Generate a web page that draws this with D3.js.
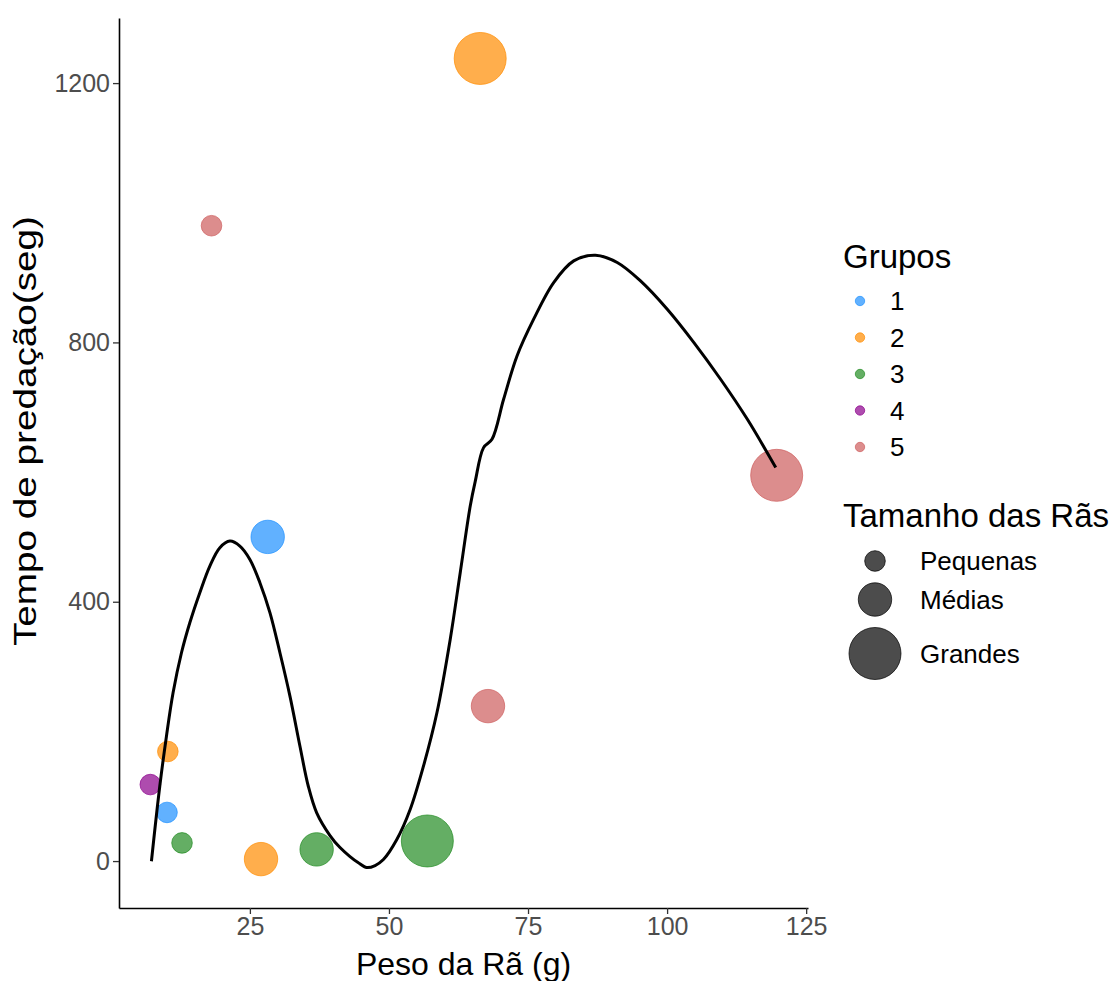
<!DOCTYPE html>
<html><head><meta charset="utf-8">
<script src="https://cdn.jsdelivr.net/npm/d3@7"></script>
<style>
body{margin:0;background:#fff}
text{font-family:"Liberation Sans",Arial,sans-serif}
</style>
</head><body>
<svg id="chart" width="1117" height="981"></svg>
<script>
// ---- data ----
const groups = ["1", "2", "3", "4", "5"];
const groupColors = ["#1E90FF", "#FF8C00", "#228B22", "#8B008B", "#CD5C5C"];
const sizeLabels = ["Pequenas", "Médias", "Grandes"];
const sizeRadii = [10.3, 16.7, 26];

const pesos  = [66.4, 18.1, 28.2, 119.7, 67.8, 10.25, 7.1, 10.1, 12.8, 27.0, 37.0, 56.9];
const tempos = [1238, 980, 500, 595, 239, 169, 118, 75, 28, 3, 18, 31];
const grupoPts = ["2", "5", "1", "5", "5", "2", "4", "1", "3", "2", "3", "3"];
const tamanhoPts = ["Grandes", "Pequenas", "Médias", "Grandes", "Médias", "Pequenas", "Pequenas", "Pequenas", "Pequenas", "Médias", "Médias", "Grandes"];

const curvaX = [7.30, 8.80, 10.00, 11.19, 12.70, 14.20, 16.00, 17.80, 19.60, 21.40, 23.20, 25.00, 26.80, 28.60, 30.40, 32.20, 34.00, 35.50, 37.01, 39.40, 41.20, 43.00, 44.44, 46.01, 47.51, 49.00, 51.41, 53.81, 56.20, 58.62, 61.01, 62.81, 64.61, 65.51, 67.01, 68.52, 70.61, 73.02, 76.01, 79.61, 83.21, 87.12, 91.03, 95.22, 100.03, 104.82, 109.62, 114.43, 119.53];
const curvaY = [-0.3, 115.4, 192.6, 259.6, 321.3, 367.6, 414.0, 455.0, 483.4, 493.6, 485.9, 465.3, 429.4, 383.1, 321.3, 254.4, 177.2, 115.4, 74.4, 39.4, 20.8, 6.9, -2.3, -10.0, -6.9, 2.3, 33.2, 79.5, 146.3, 228.7, 341.9, 444.8, 547.6, 585.7, 637.7, 650.6, 712.3, 779.1, 835.8, 892.4, 925.8, 934.6, 923.3, 894.9, 851.2, 799.8, 743.2, 681.4, 606.9];

const xTicks = [25, 50, 75, 100, 125];
const yTicks = [0, 400, 800, 1200];

// ---- layout ----
const svg = d3.select("#chart");
const L = 119, R = 808, T = 18, B = 908;

function expand(ext) { const r = ext[1] - ext[0]; return [ext[0] - 0.05 * r, ext[1] + 0.05 * r]; }
const xExt = d3.extent(pesos.concat(curvaX));
const yExt = d3.extent(tempos.concat(curvaY));

const x = d3.scaleLinear().domain(expand(xExt)).range([L, R]);
const y = d3.scaleLinear().domain(expand(yExt)).range([B, T]);
const color = d3.scaleOrdinal().domain(groups).range(groupColors);
const rad = d3.scaleOrdinal().domain(sizeLabels).range(sizeRadii);

const pts = pesos.map((p, i) => ({ x: p, y: tempos[i], g: grupoPts[i], s: tamanhoPts[i] }));
const curve = curvaX.map((cx, i) => ({ x: cx, y: curvaY[i] }));

// points
svg.append("g").selectAll("circle").data(pts).join("circle")
  .attr("cx", d => x(d.x)).attr("cy", d => y(d.y)).attr("r", d => rad(d.s))
  .attr("fill", d => color(d.g)).attr("fill-opacity", 0.7)
  .attr("stroke", d => color(d.g)).attr("stroke-opacity", 0.7).attr("stroke-width", 1);

// smooth line
svg.append("path").datum(curve)
  .attr("d", d3.line().x(d => x(d.x)).y(d => y(d.y)).curve(d3.curveCatmullRom.alpha(0.5)))
  .attr("fill", "none").attr("stroke", "#000").attr("stroke-width", 3)
  .attr("stroke-linejoin", "round");

// axes
const xAxis = svg.append("g").attr("transform", `translate(0,${B})`)
  .call(d3.axisBottom(x).tickValues(xTicks).tickFormat(d3.format("d")).tickSize(6).tickPadding(3).tickSizeOuter(0));
const yAxis = svg.append("g").attr("transform", `translate(${L},0)`)
  .call(d3.axisLeft(y).tickValues(yTicks).tickFormat(d3.format("d")).tickSize(6).tickPadding(3).tickSizeOuter(0));
[xAxis, yAxis].forEach(a => {
  a.select(".domain").attr("stroke", "#000").attr("stroke-width", 1.6);
  a.selectAll(".tick line").attr("stroke", "#333").attr("stroke-width", 1.3);
  a.selectAll(".tick text").attr("fill", "#4d4d4d").style("font-size", "25px")
    .style("font-family", '"Liberation Sans",Arial,sans-serif');
});

// axis titles
svg.append("text").attr("x", (L + R) / 2).attr("y", 975).attr("text-anchor", "middle")
  .style("font-size", "32px").attr("fill", "#000").text("Peso da Rã (g)");
svg.append("text").attr("transform", "translate(36,431) rotate(-90)").attr("text-anchor", "middle")
  .attr("textLength", 430).attr("lengthAdjust", "spacingAndGlyphs")
  .style("font-size", "31px").attr("fill", "#000").text("Tempo de predação(seg)");

// legend: Grupos
const lg = svg.append("g");
lg.append("text").attr("x", 843).attr("y", 268).style("font-size", "33px").text("Grupos");
groups.forEach((g, i) => {
  const yy = 301 + i * 36.5;
  lg.append("circle").attr("cx", 860).attr("cy", yy).attr("r", 4.7)
    .attr("fill", color(g)).attr("fill-opacity", 0.7)
    .attr("stroke", color(g)).attr("stroke-opacity", 0.7);
  lg.append("text").attr("x", 890).attr("y", yy).attr("dy", "0.35em")
    .style("font-size", "26px").text(g);
});

// legend: Tamanho das Rãs
const ls = svg.append("g");
ls.append("text").attr("x", 843).attr("y", 527).style("font-size", "33px").text("Tamanho das Rãs");
const sizeY = [561, 599.5, 653.5];
sizeLabels.forEach((s, i) => {
  ls.append("circle").attr("cx", 875).attr("cy", sizeY[i]).attr("r", rad(s))
    .attr("fill", "#000").attr("fill-opacity", 0.7)
    .attr("stroke", "#000").attr("stroke-opacity", 0.7);
  ls.append("text").attr("x", 920).attr("y", sizeY[i]).attr("dy", "0.35em")
    .style("font-size", "26px").text(s);
});
</script>
</body></html>
